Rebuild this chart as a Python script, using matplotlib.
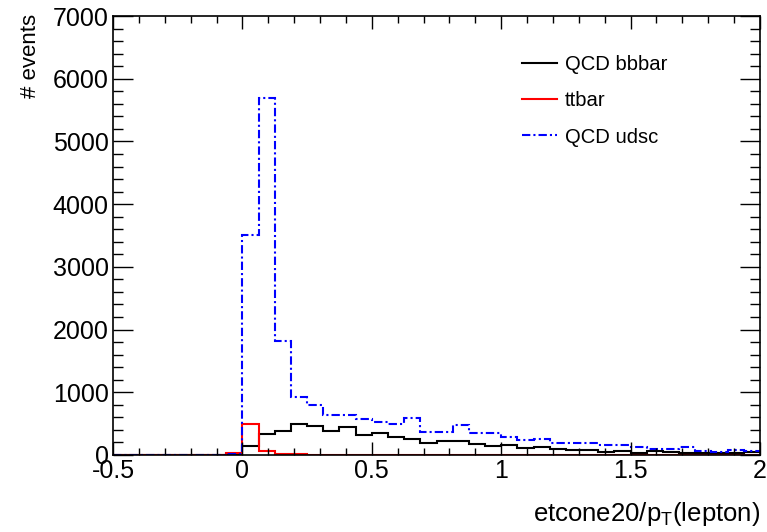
import numpy as np
import matplotlib
matplotlib.use("Agg")
import matplotlib.pyplot as plt
from matplotlib.ticker import MultipleLocator

# ---- data ----
x_min, x_max, n_bins = -0.5, 2.0, 40
bbbar = [0, 0, 0, 0, 0, 0, 0, 0,
         150, 330, 385, 490, 470, 385, 440, 320, 357, 293, 250, 186,
         229, 229, 170, 150, 155, 117, 130, 88, 80, 80,
         55, 60, 27, 70, 45, 27, 27, 30, 35, 40]
ttbar = [0, 0, 0, 0, 0, 0, 0, 37,
         495, 60, 15, 8, 5, 6, 4, 5, 6, 4, 5, 4,
         5, 4, 5, 4, 4, 5, 4, 4, 5, 4,
         4, 5, 4, 4, 5, 4, 4, 5, 4, 4]
udsc = [0, 0, 0, 0, 0, 0, 0, 15,
        3500, 5700, 1820, 920, 795, 630, 639, 570, 532, 490, 586, 373,
        373, 479, 357, 350, 290, 240, 255, 186, 186, 186,
        160, 165, 120, 100, 100, 120, 69, 48, 80, 66]
labels = ["QCD bbbar", "ttbar", "QCD udsc"]
x_label = "etcone20/p$_{\\rm T}$(lepton)"
y_label = "# events"

plt.rcParams['font.family'] = ['Liberation Sans', 'DejaVu Sans']
plt.rcParams['mathtext.fontset'] = 'custom'
plt.rcParams['mathtext.rm'] = 'Liberation Sans'
plt.rcParams['mathtext.it'] = 'Liberation Sans'
plt.rcParams['lines.scale_dashes'] = False

fig = plt.figure(figsize=(7.67, 5.32), dpi=100)
ax = fig.add_axes([113/767, 1-455/532, (760-113)/767, (455-16)/532])

edges = np.linspace(x_min, x_max, n_bins + 1)
lw = 1.5
ax.stairs(bbbar, edges, color='black', lw=lw, label=labels[0], baseline=None)
ax.stairs(ttbar, edges, color='#ff0000', lw=lw, label=labels[1], baseline=None)
ax.stairs(udsc, edges, color='#0000ff', lw=lw, label=labels[2], baseline=None,
          linestyle=(0, (6, 2.2, 1.5, 2.2)))

ax.set_xlim(x_min, x_max)
ax.set_ylim(0, 7000)

ax.xaxis.set_major_locator(MultipleLocator(0.5))
ax.xaxis.set_minor_locator(MultipleLocator(0.1))
ax.yaxis.set_major_locator(MultipleLocator(1000))
ax.yaxis.set_minor_locator(MultipleLocator(200))
ax.tick_params(axis='both', which='both', direction='in', top=True, right=True,
               labelsize=18, width=1.0)
ax.tick_params(axis='x', which='major', length=9.4, pad=3)
ax.tick_params(axis='x', which='minor', length=5)
ax.tick_params(axis='y', which='major', length=14.4, pad=3)
ax.tick_params(axis='y', which='minor', length=7.2)
ax.set_xticks([-0.5, 0, 0.5, 1, 1.5, 2])
ax.set_xticklabels(["-0.5", "0", "0.5", "1", "1.5", "2"])
for s in ax.spines.values():
    s.set_linewidth(1.2)

fig.text(760/767, 1-521/532, x_label, ha='right', va='baseline', fontsize=18.5)
fig.text(30/767, 1-14/532, y_label, ha='center', va='top', rotation=90, fontsize=16)

leg = ax.legend(loc='upper left', bbox_to_anchor=((514-113)/647, 1-(47-16)/439),
                frameon=False, fontsize=14.6, handlelength=1.72, handletextpad=0.4,
                labelspacing=0.85, borderaxespad=0)

fig.savefig("out.png", dpi=100)
